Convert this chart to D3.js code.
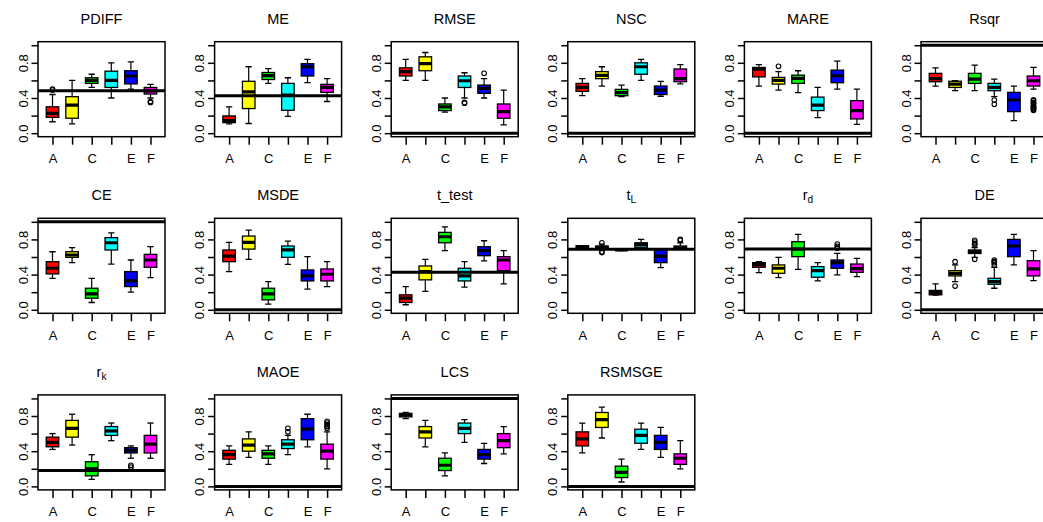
<!DOCTYPE html>
<html>
<head>
<meta charset="utf-8">
<script src="https://cdn.jsdelivr.net/npm/d3@7"></script>
<style>
  html, body { margin: 0; padding: 0; background: #ffffff; }
  svg { display: block; font-family: "Liberation Sans", Arial, Helvetica, sans-serif; }
</style>
</head>
<body>
<svg id="chart" width="1043" height="522"></svg>
<script>
// Groups on the x axis, and which of their names fit under the ticks
const categories = ["A", "B", "C", "D", "E", "F"];
const shownXLabels = ["A", "C", "E", "F"];
const boxColors = ["#FF0000", "#FFFF00", "#00FF00", "#00FFFF", "#0000FF", "#FF00FF"];
const yTicks = [0, 0.2, 0.4, 0.6, 0.8, 1.0];
const yLabelTicks = [0, 0.4, 0.8];

// Panel titles (main text + optional subscript)
const metricTitles = ["PDIFF", "ME", "RMSE", "NSC", "MARE", "Rsqr",
                      "CE", "MSDE", "t_test", "t", "r", "DE",
                      "r", "MAOE", "LCS", "RSMSGE"];
const titleSubscripts = ["", "", "", "", "", "",
                         "", "", "", "L", "d", "",
                         "k", "", "", ""];
// Horizontal reference value for each panel
const referenceValues = [0.483, 0.426, 0, 0, 0, 1,
                         1, 0, 0.426, 0.687, 0.69, 0,
                         0.18, 0, 1, 0];

// Per group: [lower whisker, Q1, median, Q3, upper whisker]
const PDIFF  = [[0.13, 0.18, 0.226, 0.30, 0.44], [0.105, 0.17, 0.32, 0.415, 0.60], [0.52, 0.566, 0.60, 0.63, 0.67],
                [0.40, 0.52, 0.60, 0.705, 0.80], [0.50, 0.56, 0.65, 0.71, 0.81], [0.40, 0.445, 0.48, 0.52, 0.555]];
const ME     = [[0.105, 0.12, 0.143, 0.196, 0.30], [0.11, 0.28, 0.47, 0.59, 0.755], [0.566, 0.61, 0.655, 0.69, 0.735],
                [0.19, 0.26, 0.434, 0.566, 0.63], [0.574, 0.65, 0.755, 0.79, 0.84], [0.36, 0.464, 0.52, 0.555, 0.62]];
const RMSE   = [[0.60, 0.65, 0.70, 0.743, 0.84], [0.60, 0.71, 0.79, 0.868, 0.917], [0.24, 0.257, 0.30, 0.332, 0.40],
                [0.40, 0.52, 0.596, 0.65, 0.687], [0.40, 0.453, 0.51, 0.547, 0.62], [0.094, 0.17, 0.245, 0.332, 0.49]];
const NSC    = [[0.426, 0.475, 0.52, 0.566, 0.62], [0.536, 0.62, 0.657, 0.70, 0.755], [0.415, 0.426, 0.46, 0.498, 0.547],
                [0.60, 0.67, 0.755, 0.80, 0.84], [0.42, 0.44, 0.49, 0.536, 0.59], [0.56, 0.585, 0.62, 0.73, 0.78]];
const MARE   = [[0.536, 0.64, 0.728, 0.747, 0.78], [0.49, 0.558, 0.60, 0.634, 0.70], [0.46, 0.566, 0.623, 0.66, 0.71],
                [0.177, 0.257, 0.32, 0.41, 0.52], [0.50, 0.574, 0.653, 0.717, 0.82], [0.10, 0.162, 0.257, 0.37, 0.50]];
const Rsqr   = [[0.536, 0.585, 0.62, 0.68, 0.743], [0.483, 0.52, 0.558, 0.59, 0.596], [0.483, 0.566, 0.615, 0.68, 0.774],
                [0.415, 0.483, 0.52, 0.566, 0.615], [0.143, 0.245, 0.377, 0.464, 0.536], [0.50, 0.536, 0.596, 0.65, 0.747]];
const CE     = [[0.358, 0.408, 0.472, 0.547, 0.66], [0.536, 0.596, 0.623, 0.66, 0.706], [0.083, 0.132, 0.18, 0.245, 0.358],
                [0.52, 0.68, 0.762, 0.82, 0.875], [0.20, 0.264, 0.328, 0.434, 0.566], [0.366, 0.483, 0.566, 0.63, 0.717]];
const MSDE   = [[0.434, 0.547, 0.611, 0.68, 0.766], [0.574, 0.69, 0.766, 0.838, 0.906], [0.064, 0.113, 0.18, 0.245, 0.32],
                [0.517, 0.596, 0.68, 0.725, 0.78], [0.234, 0.328, 0.385, 0.453, 0.604], [0.264, 0.328, 0.404, 0.464, 0.547]];
const t_test = [[0.057, 0.083, 0.132, 0.17, 0.264], [0.21, 0.34, 0.434, 0.498, 0.574], [0.672, 0.762, 0.83, 0.88, 0.943],
                [0.257, 0.328, 0.385, 0.472, 0.547], [0.555, 0.615, 0.672, 0.717, 0.785], [0.294, 0.445, 0.566, 0.604, 0.672]];
const t_L    = [[0.70, 0.706, 0.717, 0.728, 0.73], [0.672, 0.687, 0.71, 0.725, 0.747], [0.672, 0.675, 0.68, 0.685, 0.687],
                [0.70, 0.71, 0.74, 0.762, 0.80], [0.48, 0.536, 0.611, 0.68, 0.69], [0.69, 0.695, 0.705, 0.725, 0.76]];
const r_d    = [[0.423, 0.483, 0.513, 0.536, 0.547], [0.366, 0.415, 0.472, 0.51, 0.596], [0.46, 0.604, 0.69, 0.774, 0.857],
                [0.328, 0.37, 0.445, 0.49, 0.536], [0.396, 0.472, 0.536, 0.566, 0.642], [0.377, 0.426, 0.468, 0.52, 0.585]];
const DE     = [[0.166, 0.17, 0.196, 0.22, 0.294], [0.32, 0.385, 0.415, 0.445, 0.51], [0.596, 0.64, 0.66, 0.68, 0.706],
                [0.245, 0.29, 0.32, 0.358, 0.483], [0.51, 0.604, 0.725, 0.80, 0.857], [0.332, 0.385, 0.464, 0.558, 0.672]];
const r_k    = [[0.42, 0.45, 0.50, 0.56, 0.60], [0.47, 0.56, 0.66, 0.75, 0.82], [0.08, 0.12, 0.20, 0.28, 0.36],
                [0.52, 0.58, 0.63, 0.68, 0.72], [0.32, 0.38, 0.41, 0.44, 0.46], [0.32, 0.38, 0.48, 0.58, 0.72]];
const MAOE   = [[0.25, 0.31, 0.36, 0.41, 0.46], [0.33, 0.40, 0.47, 0.54, 0.62], [0.25, 0.32, 0.37, 0.41, 0.46],
                [0.36, 0.43, 0.48, 0.53, 0.58], [0.45, 0.53, 0.65, 0.77, 0.82], [0.20, 0.31, 0.40, 0.48, 0.62]];
const LCS    = [[0.77, 0.79, 0.81, 0.83, 0.84], [0.45, 0.55, 0.62, 0.68, 0.75], [0.12, 0.18, 0.24, 0.32, 0.38],
                [0.50, 0.60, 0.66, 0.72, 0.76], [0.26, 0.31, 0.36, 0.42, 0.49], [0.37, 0.44, 0.52, 0.60, 0.68]];
const RSMSGE = [[0.38, 0.46, 0.54, 0.62, 0.72], [0.55, 0.67, 0.76, 0.84, 0.90], [0.05, 0.10, 0.16, 0.23, 0.31],
                [0.42, 0.49, 0.58, 0.65, 0.72], [0.33, 0.42, 0.50, 0.58, 0.67], [0.20, 0.25, 0.32, 0.37, 0.52]];

// Points beyond the whiskers, per group
const PDIFF_out  = [[0.50, 0.49], [], [], [], [], [0.36, 0.35]];
const ME_out     = [[], [], [], [], [], []];
const RMSE_out   = [[], [], [], [0.34, 0.35], [0.68], []];
const NSC_out    = [[], [], [], [], [], []];
const MARE_out   = [[], [0.76], [], [], [], []];
const Rsqr_out   = [[], [], [], [0.377, 0.328], [], [0.38, 0.37, 0.35, 0.34, 0.33, 0.31, 0.30, 0.29, 0.28, 0.27, 0.26]];
const CE_out     = [[], [], [], [], [], []];
const MSDE_out   = [[], [], [], [], [], []];
const t_test_out = [[], [], [], [], [], []];
const t_L_out    = [[], [0.762, 0.65, 0.66], [], [], [], [0.80, 0.79]];
const r_d_out    = [[], [], [], [], [0.747, 0.72, 0.70], []];
const DE_out     = [[], [0.547, 0.27], [0.79, 0.77, 0.75, 0.74, 0.574], [0.566, 0.55, 0.536, 0.51], [], []];
const r_k_out    = [[], [], [], [], [0.24, 0.22], []];
const MAOE_out   = [[], [], [], [0.62, 0.66], [], [0.66, 0.68, 0.70, 0.72, 0.74]];
const LCS_out    = [[], [], [], [], [], []];
const RSMSGE_out = [[], [], [], [], [], []];

const panelStats = [PDIFF, ME, RMSE, NSC, MARE, Rsqr, CE, MSDE, t_test, t_L, r_d, DE, r_k, MAOE, LCS, RSMSGE];
const panelOutliers = [PDIFF_out, ME_out, RMSE_out, NSC_out, MARE_out, Rsqr_out, CE_out, MSDE_out,
                       t_test_out, t_L_out, r_d_out, DE_out, r_k_out, MAOE_out, LCS_out, RSMSGE_out];

// Grid geometry
const nCols = 6;
const firstLeft = 38, firstTop = 41.7;
const colPitch = 176.6, rowPitch = 176.6;
const plotW = 127, plotH = 95;
const boxHalf = 0.32, stapleHalf = 0.16;

const svg = d3.select("#chart");

panelStats.forEach((stats, p) => {
  const col = p % nCols, row = Math.floor(p / nCols);
  const g = svg.append("g")
    .attr("transform", `translate(${firstLeft + col * colPitch},${firstTop + row * rowPitch})`);

  const x = d3.scaleLinear().domain([0.26, 6.74]).range([0, plotW]);
  const y = d3.scaleLinear().domain([-0.04, 1.04]).range([plotH, 0]);

  const clipId = "clip" + p;
  g.append("clipPath").attr("id", clipId)
    .append("rect").attr("width", plotW).attr("height", plotH);
  const plot = g.append("g").attr("clip-path", `url(#${clipId})`);

  stats.forEach((s, i) => {
    const [lo, q1, med, q3, hi] = s;
    const cx = i + 1;
    const bg = plot.append("g");
    // whiskers
    bg.append("line").attr("x1", x(cx)).attr("x2", x(cx)).attr("y1", y(q3)).attr("y2", y(hi))
      .attr("stroke", "#000").attr("stroke-width", 1.2);
    bg.append("line").attr("x1", x(cx)).attr("x2", x(cx)).attr("y1", y(q1)).attr("y2", y(lo))
      .attr("stroke", "#000").attr("stroke-width", 1.2);
    // staples
    [lo, hi].forEach(v => {
      bg.append("line").attr("x1", x(cx - stapleHalf)).attr("x2", x(cx + stapleHalf))
        .attr("y1", y(v)).attr("y2", y(v)).attr("stroke", "#000").attr("stroke-width", 1.3);
    });
    // box
    bg.append("rect")
      .attr("x", x(cx - boxHalf)).attr("width", x(cx + boxHalf) - x(cx - boxHalf))
      .attr("y", y(q3)).attr("height", Math.max(0.5, y(q1) - y(q3)))
      .attr("fill", boxColors[i]).attr("stroke", "#000").attr("stroke-width", 1.3);
    // median
    bg.append("line").attr("x1", x(cx - boxHalf)).attr("x2", x(cx + boxHalf))
      .attr("y1", y(med)).attr("y2", y(med)).attr("stroke", "#000").attr("stroke-width", 3.2);
    // outliers
    panelOutliers[p][i].forEach(v => {
      bg.append("circle").attr("cx", x(cx)).attr("cy", y(v)).attr("r", 2.3)
        .attr("fill", "none").attr("stroke", "#000").attr("stroke-width", 1.1);
    });
  });

  // reference line across the plot
  plot.append("line").attr("x1", 0).attr("x2", plotW)
    .attr("y1", y(referenceValues[p])).attr("y2", y(referenceValues[p]))
    .attr("stroke", "#000").attr("stroke-width", 3);

  // frame
  g.append("rect").attr("width", plotW).attr("height", plotH)
    .attr("fill", "none").attr("stroke", "#000").attr("stroke-width", 1.5);

  // x axis
  const xAxis = g.append("g").attr("transform", `translate(0,${plotH})`)
    .call(d3.axisBottom(x).tickValues(d3.range(1, categories.length + 1))
      .tickSize(8).tickPadding(9)
      .tickFormat(d => shownXLabels.includes(categories[d - 1]) ? categories[d - 1] : ""));
  xAxis.select(".domain").remove();
  xAxis.selectAll(".tick line").attr("stroke-width", 1.5);
  xAxis.selectAll(".tick text").attr("font-size", 13).attr("font-family", null).attr("fill", "#000");

  // y axis with rotated labels
  const yAxis = g.append("g")
    .call(d3.axisLeft(y).tickValues(yTicks).tickSize(6.5)
      .tickFormat(d => yLabelTicks.some(t => Math.abs(t - d) < 1e-9) ? d3.format(".1f")(d) : ""));
  yAxis.select(".domain").remove();
  yAxis.selectAll(".tick line").attr("stroke-width", 1.5);
  yAxis.selectAll(".tick text")
    .attr("font-size", 13).attr("font-family", null).attr("fill", "#000")
    .attr("x", null).attr("dy", null)
    .attr("text-anchor", "middle")
    .attr("transform", "translate(-10.5,0) rotate(-90)");

  // title
  const title = g.append("text")
    .attr("x", plotW / 2).attr("y", -18)
    .attr("text-anchor", "middle").attr("font-size", 14.5).attr("fill", "#000");
  title.append("tspan").text(metricTitles[p]);
  if (titleSubscripts[p]) {
    title.append("tspan").attr("font-size", 10).attr("dy", 3).text(titleSubscripts[p]);
  }
});
</script>
</body>
</html>
